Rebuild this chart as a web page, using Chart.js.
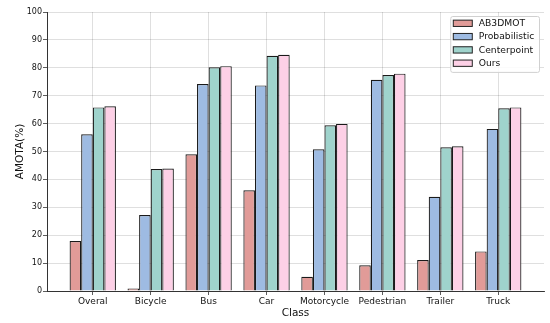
<!DOCTYPE html>
<html>
<head>
<meta charset="utf-8">
<script src="https://cdn.jsdelivr.net/npm/chart.js@4.4.0/dist/chart.umd.min.js"></script>
<style>
  html, body { margin: 0; padding: 0; background: #fff; }
  #wrap { width: 550px; height: 323px; position: relative; }
</style>
</head>
<body>
<div id="wrap"><canvas id="amotaChart"></canvas></div>
<script>
// AMOTA per class
const classes = ['Overal', 'Bicycle', 'Bus', 'Car', 'Motorcycle', 'Pedestrian', 'Trailer', 'Truck'];
const ab3dmot       = [17.9, 0.9, 49.0, 36.1, 5.1, 9.2, 11.1, 14.2];
const probabilistic = [56.2, 27.2, 74.2, 73.7, 50.8, 75.7, 33.8, 58.1];
const centerpoint   = [65.8, 43.7, 80.2, 84.3, 59.4, 77.4, 51.5, 65.5];
const ours          = [66.2, 43.9, 80.6, 84.7, 59.9, 77.9, 51.9, 65.8];
const yTicks = [0, 10, 20, 30, 40, 50, 60, 70, 80, 90, 100];

const FONT = "'DejaVu Sans', sans-serif";

function toPoints(vals) {
  return vals.map((v, i) => ({ x: i, y: v }));
}

function series(label, vals, color) {
  return {
    label, data: toPoints(vals), backgroundColor: color,
    borderColor: '#1a1a1a', borderWidth: 1.2,
    barPercentage: 1.0, categoryPercentage: 0.8,
  };
}

// matplotlib-style legend box in the upper right of the plot
const cornerLegend = {
  id: 'cornerLegend',
  afterDraw(chart) {
    const { ctx, chartArea } = chart;
    const sets = chart.data.datasets;
    ctx.save();
    ctx.font = `9.2px ${FONT}`;
    const textW = Math.max(...sets.map(d => ctx.measureText(d.label).width));
    const swW = 19, swH = 6.3, rowH = 13.3;
    const w = 3 + swW + 6.5 + textW + 4.7;
    const h = 8 + rowH * (sets.length - 1) + 8;
    const right = chartArea.right - 5;
    const left = right - w;
    const top = chartArea.top + 4;

    ctx.beginPath();
    ctx.roundRect(left + 0.5, top + 0.5, w, h, 2);
    ctx.fillStyle = 'rgba(255,255,255,0.85)';
    ctx.fill();
    ctx.strokeStyle = '#d0d0d0';
    ctx.lineWidth = 1;
    ctx.stroke();

    sets.forEach((d, i) => {
      const cy = top + 7.3 + i * rowH;
      const sx = left + 3;
      ctx.fillStyle = d.backgroundColor;
      ctx.fillRect(sx, cy - swH / 2, swW, swH);
      ctx.strokeStyle = '#222';
      ctx.lineWidth = 1;
      ctx.strokeRect(sx, cy - swH / 2, swW, swH);
      ctx.fillStyle = '#111';
      ctx.textBaseline = 'middle';
      ctx.textAlign = 'left';
      ctx.fillText(d.label, sx + swW + 6.5, cy + 0.5);
    });
    ctx.restore();
  }
};

const gridStyle = {
  color: 'rgba(0,0,0,0.16)',
  lineWidth: 0.8,
  borderDash: [2, 2],
  tickLength: 4,
  tickColor: '#333',
  tickWidth: 0.8,
  tickBorderDash: [],
  offset: false,
};

new Chart(document.getElementById('amotaChart'), {
  type: 'bar',
  data: {
    datasets: [
      series('AB3DMOT', ab3dmot, '#e19b98'),
      series('Probabilistic', probabilistic, '#9ebbe2'),
      series('Centerpoint', centerpoint, '#9fd3cc'),
      series('Ours', ours, '#fdd0e6'),
    ]
  },
  options: {
    responsive: true,
    maintainAspectRatio: false,
    animation: false,
    devicePixelRatio: 1,
    layout: { padding: { left: 14, right: 6, top: 12, bottom: 3 } },
    plugins: {
      legend: { display: false },
      tooltip: { enabled: false }
    },
    scales: {
      x: {
        type: 'linear',
        offset: false,
        min: -0.79,
        max: 7.79,
        afterBuildTicks: (scale) => { scale.ticks = classes.map((_, i) => ({ value: i })); },
        afterFit: (scale) => { scale.height = 29; },
        ticks: {
          autoSkip: false, maxRotation: 0, padding: 1,
          color: '#111', font: { family: FONT, size: 9 },
          callback: (v) => classes[v]
        },
        grid: gridStyle,
        border: { display: true, color: '#333', width: 1 },
        title: {
          display: true, text: 'Class', color: '#111',
          font: { family: FONT, size: 10.5 }, padding: { top: 0, bottom: 0 }
        }
      },
      y: {
        min: 0,
        max: 100,
        afterBuildTicks: (scale) => { scale.ticks = yTicks.map(v => ({ value: v })); },
        afterFit: (scale) => { scale.width = 33; },
        ticks: { padding: 1, color: '#111', font: { family: FONT, size: 8 } },
        grid: gridStyle,
        border: { display: true, color: '#333', width: 1 },
        title: {
          display: true, text: 'AMOTA(%)', color: '#111',
          font: { family: FONT, size: 10.5 }, padding: { top: 0, bottom: 0 }
        }
      }
    }
  },
  plugins: [cornerLegend]
});
</script>
</body>
</html>
